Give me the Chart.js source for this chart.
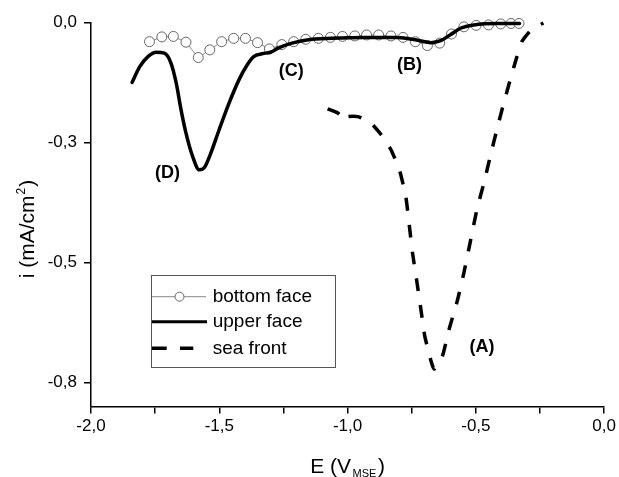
<!DOCTYPE html>
<html>
<head>
<meta charset="utf-8">
<script src="https://cdn.jsdelivr.net/npm/chart.js@4.4.0/dist/chart.umd.min.js"></script>
<style>
html,body{margin:0;padding:0;background:#fff;}
#wrap{width:619px;height:477px;position:relative;}
</style>
</head>
<body>
<div id="wrap"><canvas id="c" width="619" height="477"></canvas></div>
<script>
// ---- data ----
const seriesNames = ['bottom face', 'upper face', 'sea front'];

const bottomE = [-1.772,-1.724,-1.679,-1.630,-1.582,-1.537,-1.491,-1.444,-1.398,-1.351,-1.305,-1.256,-1.210,-1.163,-1.114,-1.067,-1.020,-0.972,-0.926,-0.879,-0.831,-0.784,-0.736,-0.689,-0.641,-0.595,-0.547,-0.499,-0.451,-0.403,-0.363,-0.332];
const bottomI = [-0.040,-0.030,-0.029,-0.041,-0.073,-0.057,-0.040,-0.033,-0.033,-0.042,-0.055,-0.046,-0.040,-0.035,-0.033,-0.031,-0.029,-0.028,-0.026,-0.026,-0.028,-0.031,-0.040,-0.048,-0.043,-0.024,-0.009,-0.006,-0.005,-0.003,-0.002,-0.002];

const upperE = [-1.840,-1.810,-1.778,-1.746,-1.714,-1.688,-1.668,-1.649,-1.630,-1.604,-1.578,-1.559,-1.533,-1.501,-1.462,-1.423,-1.391,-1.366,-1.333,-1.301,-1.269,-1.217,-1.153,-1.063,-0.933,-0.805,-0.727,-0.676,-0.637,-0.598,-0.560,-0.508,-0.418,-0.330];
const upperI = [-0.125,-0.092,-0.071,-0.062,-0.064,-0.085,-0.126,-0.182,-0.230,-0.279,-0.307,-0.303,-0.272,-0.224,-0.168,-0.119,-0.088,-0.071,-0.065,-0.062,-0.053,-0.043,-0.036,-0.033,-0.031,-0.031,-0.037,-0.042,-0.038,-0.025,-0.012,-0.005,-0.002,-0.002];

const seaE = [-1.078,-1.037,-1.007,-0.998,-0.959,-0.908,-0.869,-0.831,-0.798,-0.773,-0.759,-0.747,-0.730,-0.714,-0.699,-0.676,-0.663,-0.631,-0.605,-0.573,-0.547,-0.523,-0.495,-0.469,-0.444,-0.420,-0.395,-0.366,-0.340,-0.321,-0.282,-0.237];
const seaI = [-0.180,-0.189,-0.204,-0.196,-0.196,-0.210,-0.234,-0.265,-0.307,-0.363,-0.425,-0.480,-0.540,-0.599,-0.654,-0.703,-0.722,-0.696,-0.640,-0.581,-0.522,-0.460,-0.387,-0.335,-0.279,-0.227,-0.175,-0.119,-0.071,-0.040,-0.014,-0.001];

const xTicks = [-2,-1.75,-1.5,-1.25,-1,-0.75,-0.5,-0.25,0];
const xTickLabels = ['-2,0','','-1,5','','-1,0','','-0,5','','0,0'];
const yTicks = [0,-0.25,-0.5,-0.75];
const yTickLabels = ['0,0','-0,3','-0,5','-0,8'];

const annoLabels = ['(A)','(B)','(C)','(D)'];
const annoE = [-0.476,-0.759,-1.220,-1.702];
const annoI = [-0.676,-0.088,-0.102,-0.313];

// ---- styling ----
const FONT = "'Liberation Sans', Arial, Helvetica, sans-serif";
Chart.defaults.font.family = FONT;
Chart.defaults.color = '#000';

const pts = (xs, ys) => xs.map((x, i) => ({x: x, y: ys[i]}));

const decor = {
  id: 'decor',
  afterDraw(chart) {
    const ctx = chart.ctx, xs = chart.scales.x, ys = chart.scales.y, ca = chart.chartArea;
    ctx.save();
    ctx.fillStyle = '#000';
    // annotation letters
    ctx.font = 'bold 18px ' + FONT;
    ctx.textAlign = 'center';
    ctx.textBaseline = 'middle';
    annoLabels.forEach((t, i) => ctx.fillText(t, xs.getPixelForValue(annoE[i]), ys.getPixelForValue(annoI[i])));

    // x title: E (V_MSE)
    const big = '21px ' + FONT, small = '11px ' + FONT;
    ctx.textAlign = 'left';
    ctx.textBaseline = 'alphabetic';
    ctx.font = big;
    let a = ctx.measureText('E (V').width, c = ctx.measureText(')').width;
    ctx.font = small;
    let b = ctx.measureText('MSE').width;
    let x0 = (ca.left + ca.right) / 2 - (a + b + c + 3) / 2;
    const by = 472.5;
    ctx.font = big; ctx.fillText('E (V', x0, by);
    ctx.font = small; ctx.fillText('MSE', x0 + a + 1.5, by + 4.5);
    ctx.font = big; ctx.fillText(')', x0 + a + b + 3, by);

    // y title: i (mA/cm^2)
    ctx.save();
    ctx.translate(33.5, 229);
    ctx.rotate(-Math.PI / 2);
    ctx.font = big;
    a = ctx.measureText('i (mA/cm').width; c = ctx.measureText(')').width;
    ctx.font = '12px ' + FONT;
    b = ctx.measureText('2').width;
    x0 = -(a + b + c + 2) / 2;
    ctx.font = big; ctx.fillText('i (mA/cm', x0, 0);
    ctx.font = '12px ' + FONT; ctx.fillText('2', x0 + a + 1, -8.5);
    ctx.font = big; ctx.fillText(')', x0 + a + b + 2, 0);
    ctx.restore();

    // legend
    const lx = 151.5, ly = 275.5, lw = 184, lh = 92;
    ctx.strokeStyle = '#555';
    ctx.lineWidth = 1;
    ctx.strokeRect(lx, ly, lw, lh);
    const rows = [296.7, 321.7, 348.3];
    const tx = 212.7;
    // bottom face sample
    ctx.strokeStyle = '#888'; ctx.lineWidth = 1;
    ctx.beginPath(); ctx.moveTo(152, rows[0]); ctx.lineTo(206, rows[0]); ctx.stroke();
    ctx.fillStyle = '#fff'; ctx.strokeStyle = '#666';
    ctx.beginPath(); ctx.arc(179.5, rows[0], 4.5, 0, Math.PI * 2); ctx.fill(); ctx.stroke();
    // upper face sample
    ctx.strokeStyle = '#000'; ctx.lineWidth = 3;
    ctx.beginPath(); ctx.moveTo(152, rows[1]); ctx.lineTo(207, rows[1]); ctx.stroke();
    // sea front sample
    ctx.lineWidth = 3.5;
    ctx.beginPath(); ctx.moveTo(152, rows[2]); ctx.lineTo(166.7, rows[2]); ctx.moveTo(180, rows[2]); ctx.lineTo(193.3, rows[2]); ctx.stroke();
    // legend texts
    ctx.fillStyle = '#000';
    ctx.font = '19px ' + FONT;
    ctx.textAlign = 'left';
    ctx.textBaseline = 'middle';
    seriesNames.forEach((n, i) => ctx.fillText(n, tx, rows[i] + 0.5));
    ctx.restore();
  }
};

new Chart(document.getElementById('c'), {
  type: 'line',
  data: {
    datasets: [
      {
        label: seriesNames[0], data: pts(bottomE, bottomI), order: 1,
        borderColor: '#888', borderWidth: 1, tension: 0,
        pointRadius: 5, pointBackgroundColor: '#fff', pointBorderColor: '#666', pointBorderWidth: 1,
        clip: false
      },
      {
        label: seriesNames[1], data: pts(upperE, upperI), order: 0,
        borderColor: '#000', borderWidth: 3.5, cubicInterpolationMode: 'monotone',
        pointRadius: 0, clip: false, borderCapStyle: 'round', borderJoinStyle: 'round'
      },
      {
        label: seriesNames[2], data: pts(seaE, seaI), order: 2,
        borderColor: '#000', borderWidth: 3.5, borderDash: [13, 14], tension: 0.15,
        pointRadius: 0, clip: false
      }
    ]
  },
  options: {
    responsive: false,
    animation: false,
    events: [],
    layout: { padding: { left: 0, right: 12, top: 22.5, bottom: 0 } },
    plugins: { legend: { display: false }, tooltip: { enabled: false } },
    scales: {
      x: {
        type: 'linear', min: -2, max: 0,
        afterBuildTicks: s => { s.ticks = xTicks.map(v => ({value: v})); },
        afterFit: s => { s.height = 70.5; },
        ticks: { autoSkip: false, maxRotation: 0, padding: 3, font: { size: 17 }, color: '#000',
                 callback: (v, i) => xTickLabels[i] },
        grid: { display: true, drawOnChartArea: false, drawTicks: true, tickLength: 7, color: '#000', lineWidth: 1.5 },
        border: { display: true, color: '#000', width: 1.5 }
      },
      y: {
        type: 'linear', min: -0.8, max: 0,
        afterBuildTicks: s => { s.ticks = yTicks.map(v => ({value: v})); },
        afterFit: s => { s.width = 91; },
        ticks: { autoSkip: false, padding: 7, font: { size: 17 }, color: '#000',
                 callback: (v, i) => yTickLabels[i] },
        grid: { display: true, drawOnChartArea: false, drawTicks: true, tickLength: 7, color: '#000', lineWidth: 1.5 },
        border: { display: true, color: '#000', width: 1.5 }
      }
    }
  },
  plugins: [decor]
});
</script>
</body>
</html>
